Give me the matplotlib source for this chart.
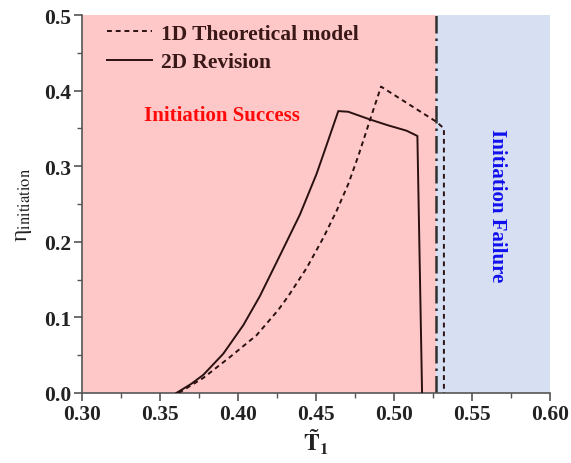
import matplotlib
matplotlib.use('Agg')
import matplotlib.pyplot as plt
from matplotlib.ticker import MultipleLocator, FormatStrFormatter

plt.rcParams['font.family'] = ['Liberation Serif', 'DejaVu Serif']
plt.rcParams['mathtext.fontset'] = 'stix'

# 1D theoretical model (dashed)
t1_1d = [0.362, 0.3778, 0.3949, 0.4119, 0.4259, 0.4322, 0.444, 0.4547, 0.4632,
         0.4707, 0.4772, 0.4846, 0.4917, 0.527, 0.532, 0.532]
eta_1d = [0.0, 0.020, 0.0476, 0.0764, 0.110, 0.128, 0.1653, 0.2053, 0.2409,
          0.2764, 0.314, 0.361, 0.4053, 0.359, 0.350, 0.0]

# 2D revision (solid)
t1_2d = [0.3605, 0.3700, 0.3778, 0.3906, 0.4034, 0.4140, 0.4269, 0.4397, 0.4504, 0.4568,
         0.4643, 0.4707, 0.4846, 0.4963, 0.508, 0.515, 0.518]
eta_2d = [0.0, 0.012, 0.024, 0.052, 0.0897, 0.128, 0.182, 0.236, 0.290, 0.328,
          0.3729, 0.372, 0.3618, 0.354, 0.347, 0.340, 0.0]

t1_limit = 0.527
xlim = (0.30, 0.60)
ylim = (0.0, 0.5)

line_col = '#2a1010'

fig = plt.figure(figsize=(5.71, 4.64), dpi=100)
ax = fig.add_axes([0.1436, 0.1509, 0.8196, 0.8146])

ax.axvspan(xlim[0], t1_limit, color='#fec8c8', lw=0, zorder=0)
ax.axvspan(t1_limit, xlim[1], color='#d7e0f2', lw=0, zorder=0)
ax.axvline(t1_limit, color='#303030', lw=1.8, ls=(0, (7, 2, 1, 2)), zorder=2)

ax.plot(t1_1d, eta_1d, color=line_col, lw=1.4, ls=(0, (2.5, 2)), label='1D Theoretical model', zorder=3)
ax.plot(t1_2d, eta_2d, color=line_col, lw=1.4, label='2D Revision', zorder=3)

ax.text(0.3897, 0.368, 'Initiation Success', color='#ff0a0a', fontsize=15,
        fontweight='bold', ha='center', va='center')
ax.text(0.566, 0.249, 'Initiation Failure', color='#1010ee', fontsize=15,
        fontweight='bold', ha='center', va='center', rotation=-90)

ax.set_xlim(*xlim)
ax.set_ylim(*ylim)
ax.xaxis.set_major_locator(MultipleLocator(0.05))
ax.xaxis.set_minor_locator(MultipleLocator(0.025))
ax.yaxis.set_major_locator(MultipleLocator(0.1))
ax.yaxis.set_minor_locator(MultipleLocator(0.05))
ax.xaxis.set_major_formatter(FormatStrFormatter('%.2f'))
ax.yaxis.set_major_formatter(FormatStrFormatter('%.1f'))

for s in ('top', 'right'):
    ax.spines[s].set_visible(False)
for s in ('left', 'bottom'):
    ax.spines[s].set_color('#555555')
    ax.spines[s].set_linewidth(1.2)

ax.tick_params(which='major', direction='out', length=6, width=1.2, color='#555555',
               labelsize=15.5, pad=2)
ax.tick_params(which='minor', direction='out', length=3.5, width=1.0, color='#555555')
for lab in ax.get_xticklabels() + ax.get_yticklabels():
    lab.set_fontweight('bold')
    lab.set_color('#222222')

ax.set_xlabel(r'$\mathbf{\tilde{T}_1}$', fontsize=17, color='#222222', labelpad=2)
ax.set_ylabel(r'η$_{\mathrm{initiation}}$', fontsize=17, color='#222222', labelpad=7)

leg = ax.legend(loc='upper left', bbox_to_anchor=(0.035, 1.0), borderaxespad=0,
                frameon=False, handlelength=2.1, labelspacing=0.4, handletextpad=0.4,
                prop={'weight': 'bold', 'size': 15.5})
for txt in leg.get_texts():
    txt.set_color('#3a1818')

fig.savefig('out.png', dpi=100)
